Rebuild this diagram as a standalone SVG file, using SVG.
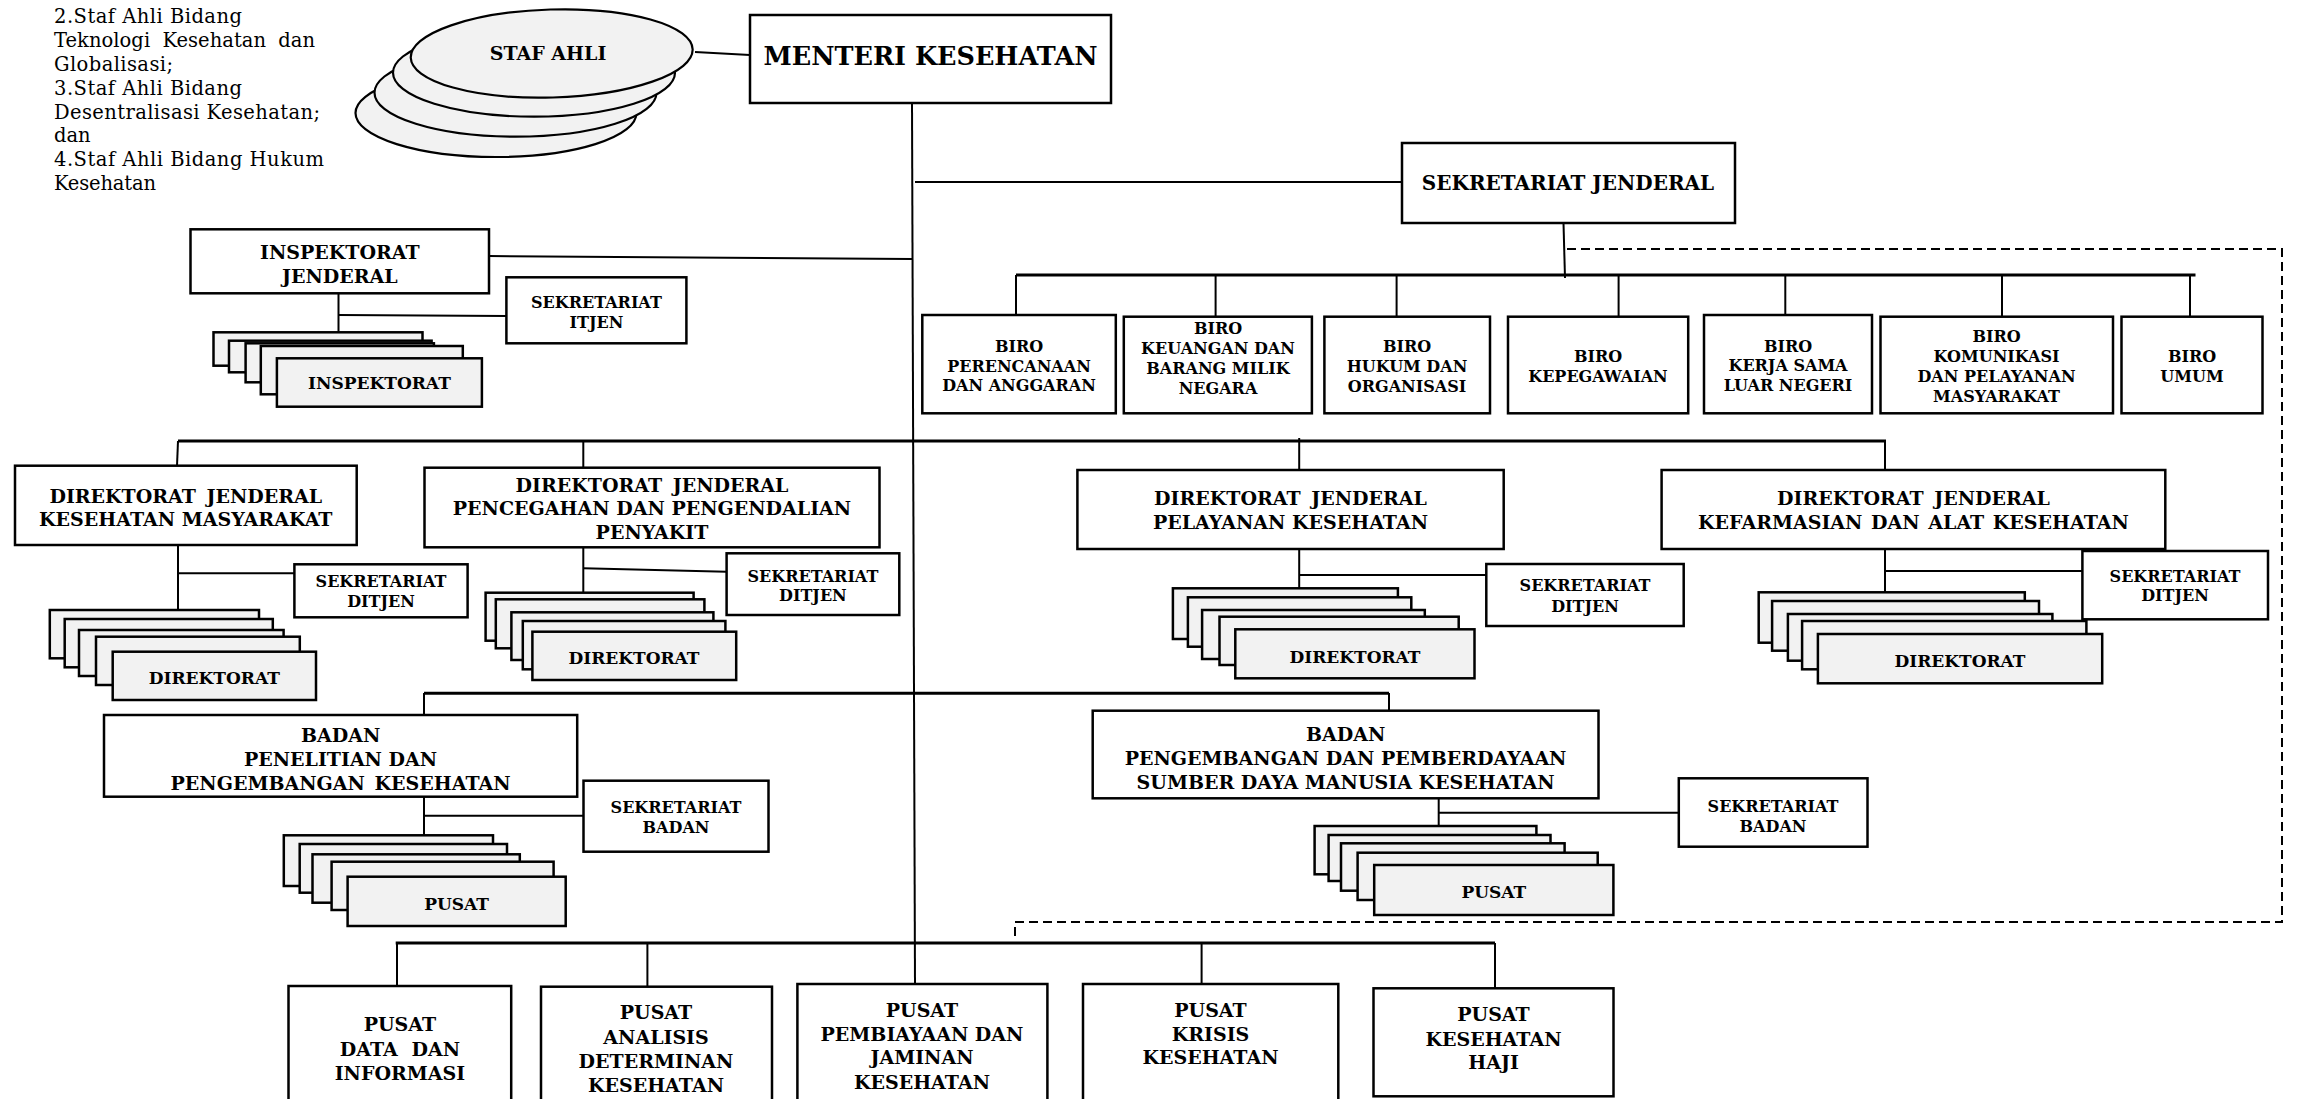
<svg xmlns="http://www.w3.org/2000/svg" width="2298" height="1099" viewBox="0 0 2298 1099">
<style>
.box{fill:#fff;stroke:#000;stroke-width:2.5}
.stk{fill:#f2f2f2;stroke:#000;stroke-width:2.5}
.ell{fill:#f2f2f2;stroke:#000;stroke-width:2.2}
.ln{stroke:#000;stroke-width:2;fill:none}
.bus{stroke:#000;stroke-width:3;fill:none}
.dash{stroke:#000;stroke-width:2;fill:none;stroke-dasharray:9 5}
.t{font-family:"DejaVu Serif","Liberation Serif",serif;font-weight:bold;text-anchor:middle;dominant-baseline:central;fill:#000}
.r{font-family:"DejaVu Serif","Liberation Serif",serif;font-size:19.5px;fill:#000;dominant-baseline:central}
.s25{font-size:25.5px}.s20{font-size:20px}.s19{font-size:19px}.s17{font-size:17px}.s16{font-size:16px}
</style>
<rect width="2298" height="1099" fill="#fff"/>

<g id="note">
<text class="r" x="54" y="16" textLength="188">2.Staf Ahli Bidang</text>
<text class="r" x="54" y="40" textLength="261" style="word-spacing:6px">Teknologi Kesehatan dan</text>
<text class="r" x="54" y="64" textLength="119">Globalisasi;</text>
<text class="r" x="54" y="88" textLength="188">3.Staf Ahli Bidang</text>
<text class="r" x="54" y="112" textLength="266">Desentralisasi Kesehatan;</text>
<text class="r" x="54" y="135">dan</text>
<text class="r" x="54" y="159" textLength="270">4.Staf Ahli Bidang Hukum</text>
<text class="r" x="54" y="183" textLength="102">Kesehatan</text>
</g>

<g id="connectors">
<line class="ln" x1="695" y1="52" x2="750" y2="55"/>
<line class="ln" x1="912" y1="103" x2="915" y2="984"/>
<line class="ln" x1="915" y1="182" x2="1402" y2="182"/>
<line class="ln" x1="489" y1="256" x2="912" y2="259"/>
<line class="ln" x1="338.5" y1="293" x2="338.5" y2="332"/>
<line class="ln" x1="338.5" y1="315" x2="507" y2="316"/>
<line class="ln" x1="1563.5" y1="223" x2="1565" y2="278"/>
<line class="bus" x1="1016" y1="275" x2="2195.5" y2="275"/>
<line class="ln" x1="1016" y1="275" x2="1016" y2="315"/>
<line class="ln" x1="1215.6" y1="275" x2="1215.6" y2="316"/>
<line class="ln" x1="1396.6" y1="275" x2="1396.6" y2="316"/>
<line class="ln" x1="1618.6" y1="275" x2="1618.6" y2="316"/>
<line class="ln" x1="1785.3" y1="275" x2="1785.3" y2="315"/>
<line class="ln" x1="2002" y1="275" x2="2002" y2="316"/>
<line class="ln" x1="2190" y1="275" x2="2190" y2="316"/>
<path class="dash" d="M1567 249 H2282 V922 H1015 V937"/>
<line class="bus" x1="178" y1="441" x2="1886" y2="441"/>
<line class="ln" x1="178" y1="441" x2="177" y2="466"/>
<line class="ln" x1="583.3" y1="441" x2="583.3" y2="468"/>
<line class="ln" x1="1299.2" y1="438" x2="1299.2" y2="470"/>
<line class="ln" x1="1885" y1="441" x2="1885" y2="470"/>
<line class="ln" x1="178" y1="545" x2="178" y2="610"/>
<line class="ln" x1="178" y1="573.3" x2="294.4" y2="573.3"/>
<line class="ln" x1="583.3" y1="545" x2="583.3" y2="593"/>
<line class="ln" x1="583.3" y1="568.3" x2="726.6" y2="571.7"/>
<line class="ln" x1="1299.2" y1="549" x2="1299.2" y2="588"/>
<line class="ln" x1="1300" y1="575" x2="1486.3" y2="575"/>
<line class="ln" x1="1885" y1="549" x2="1885" y2="592"/>
<line class="ln" x1="1885" y1="571" x2="2082.4" y2="571"/>
<line class="bus" x1="424" y1="693.3" x2="1389" y2="693.3"/>
<line class="ln" x1="424" y1="693" x2="424" y2="715"/>
<line class="ln" x1="1389" y1="693" x2="1389" y2="711"/>
<line class="ln" x1="424" y1="796.7" x2="424" y2="835.3"/>
<line class="ln" x1="424" y1="815.7" x2="583.5" y2="815.7"/>
<line class="ln" x1="1438.7" y1="798.3" x2="1438.7" y2="826"/>
<line class="ln" x1="1438.7" y1="812.7" x2="1678.8" y2="812.7"/>
<line class="bus" x1="395.7" y1="943" x2="1495" y2="943"/>
<line class="ln" x1="397" y1="943" x2="397" y2="986"/>
<line class="ln" x1="647.4" y1="943" x2="647.4" y2="988"/>
<line class="ln" x1="1201.6" y1="943" x2="1201.6" y2="986.7"/>
<line class="ln" x1="1495" y1="943" x2="1495" y2="988"/>
</g>

<g id="staf-ahli">
<ellipse class="ell" cx="496" cy="113" rx="140.5" ry="44"/>
<ellipse class="ell" cx="515.5" cy="92.7" rx="141" ry="44"/>
<ellipse class="ell" cx="534" cy="72.7" rx="141" ry="44"/>
<ellipse class="ell" cx="551.7" cy="53.5" rx="141" ry="44" transform="rotate(-1.7 551.7 53.5)"/>
<text class="t s19" x="548" y="53">STAF AHLI</text>
</g>

<g id="menteri">
<rect class="box" x="750" y="15" width="361" height="88"/>
<text class="t s25" x="930.5" y="56">MENTERI KESEHATAN</text>
</g>

<g id="sekjen">
<rect class="box" x="1402" y="143" width="333" height="80"/>
<text class="t s20" x="1568" y="183">SEKRETARIAT JENDERAL</text>
</g>

<g id="itjen">
<rect class="box" x="190.5" y="229.3" width="298.5" height="64"/>
<text class="t s19" x="339.8" y="251.7">INSPEKTORAT</text>
<text class="t s19" x="339.8" y="275.7">JENDERAL</text>
</g>
<g id="set-itjen">
<rect class="box" x="506.4" y="277.3" width="180" height="66"/>
<text class="t s16" x="596.4" y="302.7">SEKRETARIAT</text>
<text class="t s16" x="596.4" y="322.7">ITJEN</text>
</g>
<g id="inspektorat">
<rect class="stk" x="213.5" y="332.3" width="209" height="33.4"/>
<rect class="stk" x="229" y="340.7" width="202.6" height="31.6"/>
<rect class="stk" x="245.6" y="343.3" width="188.3" height="39"/>
<rect class="stk" x="260.8" y="346" width="202" height="48.3"/>
<rect class="stk" x="276.9" y="358.3" width="205" height="48.4"/>
<text class="t s17" x="379.4" y="383.3">INSPEKTORAT</text>
</g>

<g id="biro-1">
<rect class="box" x="922.3" y="315" width="193.5" height="98.3"/>
<text class="t s16" x="1019" y="346">BIRO</text>
<text class="t s16" x="1019" y="366">PERENCANAAN</text>
<text class="t s16" x="1019" y="385">DAN ANGGARAN</text>
</g>
<g id="biro-2">
<rect class="box" x="1123.8" y="316.7" width="188.1" height="96.6"/>
<text class="t s16" x="1218" y="328">BIRO</text>
<text class="t s16" x="1218" y="348">KEUANGAN DAN</text>
<text class="t s16" x="1218" y="368">BARANG MILIK</text>
<text class="t s16" x="1218" y="388">NEGARA</text>
</g>
<g id="biro-3">
<rect class="box" x="1324.4" y="316.7" width="165.6" height="96.6"/>
<text class="t s16" x="1407" y="346">BIRO</text>
<text class="t s16" x="1407" y="366">HUKUM DAN</text>
<text class="t s16" x="1407" y="386">ORGANISASI</text>
</g>
<g id="biro-4">
<rect class="box" x="1508" y="316.7" width="180.2" height="96.6"/>
<text class="t s16" x="1598" y="356.7">BIRO</text>
<text class="t s16" x="1598" y="376.7">KEPEGAWAIAN</text>
</g>
<g id="biro-5">
<rect class="box" x="1704" y="315" width="168" height="98.3"/>
<text class="t s16" x="1788" y="346">BIRO</text>
<text class="t s16" x="1788" y="365.5">KERJA SAMA</text>
<text class="t s16" x="1788" y="385">LUAR NEGERI</text>
</g>
<g id="biro-6">
<rect class="box" x="1880.5" y="316.7" width="232.5" height="96.6"/>
<text class="t s16" x="1996.5" y="336.7">BIRO</text>
<text class="t s16" x="1996.5" y="356">KOMUNIKASI</text>
<text class="t s16" x="1996.5" y="376">DAN PELAYANAN</text>
<text class="t s16" x="1996.5" y="396.7">MASYARAKAT</text>
</g>
<g id="biro-7">
<rect class="box" x="2121.5" y="316.7" width="141" height="96.6"/>
<text class="t s16" x="2192" y="356.7">BIRO</text>
<text class="t s16" x="2192" y="376.7">UMUM</text>
</g>

<g id="ditjen-kesmas">
<rect class="box" x="15" y="465.7" width="341.7" height="79.3"/>
<text class="t s19" x="185.8" y="496" style="word-spacing:4px">DIREKTORAT JENDERAL</text>
<text class="t s19" x="185.8" y="519.3">KESEHATAN MASYARAKAT</text>
</g>
<g id="set-kesmas">
<rect class="box" x="294.4" y="564.3" width="173.2" height="53"/>
<text class="t s16" x="381" y="581.5">SEKRETARIAT</text>
<text class="t s16" x="381" y="601">DITJEN</text>
</g>
<g id="dit-kesmas">
<rect class="stk" x="49.8" y="610" width="209.2" height="48.3"/>
<rect class="stk" x="64.7" y="619" width="208.1" height="48.3"/>
<rect class="stk" x="79" y="630" width="204.6" height="46"/>
<rect class="stk" x="96" y="636.7" width="203.8" height="48.3"/>
<rect class="stk" x="112.7" y="651.7" width="203.3" height="48.3"/>
<text class="t s17" x="214.3" y="678.3">DIREKTORAT</text>
</g>

<g id="ditjen-p2p">
<rect class="box" x="424.5" y="467.7" width="455" height="79.6"/>
<text class="t s19" x="652" y="485" style="word-spacing:4px">DIREKTORAT JENDERAL</text>
<text class="t s19" x="652" y="508.3">PENCEGAHAN DAN PENGENDALIAN</text>
<text class="t s19" x="652" y="531.7">PENYAKIT</text>
</g>
<g id="set-p2p">
<rect class="box" x="726.6" y="553.3" width="172.7" height="61.7"/>
<text class="t s16" x="812.9" y="576">SEKRETARIAT</text>
<text class="t s16" x="812.9" y="595">DITJEN</text>
</g>
<g id="dit-p2p">
<rect class="stk" x="485.6" y="592.7" width="208" height="48"/>
<rect class="stk" x="495.8" y="599.3" width="208.6" height="49"/>
<rect class="stk" x="511.4" y="612.3" width="202" height="47.7"/>
<rect class="stk" x="522.8" y="621" width="202.6" height="48.3"/>
<rect class="stk" x="532.4" y="631.7" width="203.8" height="48.3"/>
<text class="t s17" x="634" y="658.3">DIREKTORAT</text>
</g>

<g id="ditjen-yankes">
<rect class="box" x="1077.4" y="470" width="426.3" height="79"/>
<text class="t s19" x="1290.5" y="498.3" style="word-spacing:4px">DIREKTORAT JENDERAL</text>
<text class="t s19" x="1290.5" y="521.7">PELAYANAN KESEHATAN</text>
</g>
<g id="set-yankes">
<rect class="box" x="1486.3" y="564" width="197.4" height="62"/>
<text class="t s16" x="1585" y="585.7">SEKRETARIAT</text>
<text class="t s16" x="1585" y="606">DITJEN</text>
</g>
<g id="dit-yankes">
<rect class="stk" x="1172.9" y="588.3" width="225" height="50.7"/>
<rect class="stk" x="1187.9" y="597.3" width="223.4" height="49.4"/>
<rect class="stk" x="1202.1" y="610" width="222.7" height="49"/>
<rect class="stk" x="1219.5" y="616.7" width="239.2" height="48.3"/>
<rect class="stk" x="1235.3" y="629.3" width="239.2" height="49"/>
<text class="t s17" x="1355" y="656.7">DIREKTORAT</text>
</g>

<g id="ditjen-farmalkes">
<rect class="box" x="1661.6" y="470" width="503.7" height="79"/>
<text class="t s19" x="1913.5" y="498.3" style="word-spacing:4px">DIREKTORAT JENDERAL</text>
<text class="t s19" x="1913.5" y="521.7" style="word-spacing:2px">KEFARMASIAN DAN ALAT KESEHATAN</text>
</g>
<g id="set-farmalkes">
<rect class="box" x="2082.4" y="551" width="185.6" height="68.3"/>
<text class="t s16" x="2175" y="576.7">SEKRETARIAT</text>
<text class="t s16" x="2175" y="595.7">DITJEN</text>
</g>
<g id="dit-farmalkes">
<rect class="stk" x="1758.7" y="592.3" width="266.1" height="50.4"/>
<rect class="stk" x="1772.1" y="601" width="266.9" height="49.7"/>
<rect class="stk" x="1787.9" y="614" width="264.5" height="46.7"/>
<rect class="stk" x="1802.1" y="621" width="284.3" height="48.3"/>
<rect class="stk" x="1817.9" y="634" width="284.3" height="49.3"/>
<text class="t s17" x="1960" y="660.7">DIREKTORAT</text>
</g>

<g id="badan-litbangkes">
<rect class="box" x="104" y="715" width="473.2" height="81.7"/>
<text class="t s19" x="340.6" y="735">BADAN</text>
<text class="t s19" x="340.6" y="759">PENELITIAN DAN</text>
<text class="t s19" x="340.6" y="782.7" style="word-spacing:3px">PENGEMBANGAN KESEHATAN</text>
</g>
<g id="set-litbangkes">
<rect class="box" x="583.5" y="780.7" width="185" height="71"/>
<text class="t s16" x="676" y="807">SEKRETARIAT</text>
<text class="t s16" x="676" y="827">BADAN</text>
</g>
<g id="pusat-litbangkes">
<rect class="stk" x="283.8" y="835.3" width="209.2" height="50.7"/>
<rect class="stk" x="299.7" y="844" width="207.3" height="48.7"/>
<rect class="stk" x="312.5" y="854.3" width="207.3" height="48.4"/>
<rect class="stk" x="331.6" y="861.7" width="222" height="48.3"/>
<rect class="stk" x="347.6" y="876.7" width="218.1" height="49.3"/>
<text class="t s17" x="456.6" y="904">PUSAT</text>
</g>

<g id="badan-ppsdm">
<rect class="box" x="1092.7" y="710.7" width="505.8" height="87.6"/>
<text class="t s19" x="1345.6" y="734">BADAN</text>
<text class="t s19" x="1345.6" y="758">PENGEMBANGAN  DAN PEMBERDAYAAN</text>
<text class="t s19" x="1345.6" y="781.7">SUMBER  DAYA MANUSIA KESEHATAN</text>
</g>
<g id="set-ppsdm">
<rect class="box" x="1678.8" y="778.3" width="188.7" height="68.4"/>
<text class="t s16" x="1773" y="806">SEKRETARIAT</text>
<text class="t s16" x="1773" y="826">BADAN</text>
</g>
<g id="pusat-ppsdm">
<rect class="stk" x="1314.6" y="826" width="221.8" height="48.3"/>
<rect class="stk" x="1328.6" y="835" width="221.9" height="46"/>
<rect class="stk" x="1341" y="843.3" width="223.6" height="47.4"/>
<rect class="stk" x="1357.6" y="852.7" width="240.1" height="47.3"/>
<rect class="stk" x="1374.2" y="865" width="239.2" height="50"/>
<text class="t s17" x="1493.8" y="892.3">PUSAT</text>
</g>

<g id="pusdatin">
<rect class="box" x="288.5" y="986" width="222.7" height="150"/>
<text class="t s19" x="399.9" y="1024">PUSAT</text>
<text class="t s19" x="399.9" y="1049.3" style="word-spacing:7px">DATA DAN</text>
<text class="t s19" x="399.9" y="1072.7">INFORMASI</text>
</g>
<g id="pusat-analisis">
<rect class="box" x="541" y="986.7" width="231" height="150"/>
<text class="t s19" x="656" y="1011.7">PUSAT</text>
<text class="t s19" x="656" y="1036.7">ANALISIS</text>
<text class="t s19" x="656" y="1061">DETERMINAN</text>
<text class="t s19" x="656" y="1085">KESEHATAN</text>
</g>
<g id="pusat-pembiayaan">
<rect class="box" x="797.4" y="984" width="250" height="150"/>
<text class="t s19" x="922" y="1010">PUSAT</text>
<text class="t s19" x="922" y="1034">PEMBIAYAAN DAN</text>
<text class="t s19" x="922" y="1057.3">JAMINAN</text>
<text class="t s19" x="922" y="1081.7">KESEHATAN</text>
</g>
<g id="pusat-krisis">
<rect class="box" x="1083" y="984" width="255.3" height="150"/>
<text class="t s19" x="1210.5" y="1010">PUSAT</text>
<text class="t s19" x="1210.5" y="1034">KRISIS</text>
<text class="t s19" x="1210.5" y="1057">KESEHATAN</text>
</g>
<g id="pusat-haji">
<rect class="box" x="1373.5" y="988.3" width="240" height="108"/>
<text class="t s19" x="1493.5" y="1014">PUSAT</text>
<text class="t s19" x="1493.5" y="1038.5">KESEHATAN</text>
<text class="t s19" x="1493.5" y="1062">HAJI</text>
</g>
</svg>
